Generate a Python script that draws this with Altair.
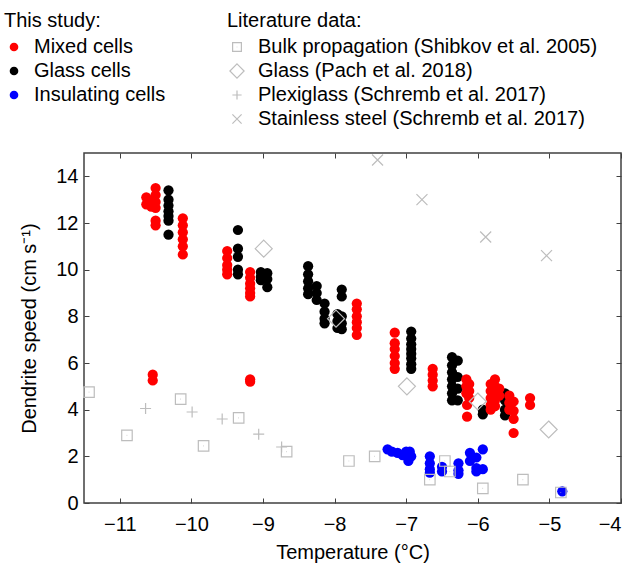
import altair as alt
import pandas as pd

FONT = "Liberation Sans"
GRAY = "#bdbdbd"
FRAME = "#404040"
FS = 20

# ---------------- This study ----------------
study_series = ["Mixed cells", "Glass cells", "Insulating cells"]
study_colors = ["#ff0000", "#000000", "#0000ff"]

glass_temp = ([-10.32] * 7 + [-9.35] * 5 + [-9.03] * 3 + [-8.94] * 3 + [-8.37] * 5 + [-8.25] * 3
              + [-8.14] * 4 + [-7.96] * 3 + [-7.90] * 5 + [-6.93] * 8 + [-6.36] * 7 + [-6.28] * 4
              + [-5.93] * 2 + [-5.62] * 4)
glass_speed = [13.4, 13.0, 12.75, 12.5, 12.3, 12.1, 11.5,
               11.7, 10.9, 10.55, 10.0, 9.8,
               9.9, 9.7, 9.55,
               9.85, 9.6, 9.25,
               10.15, 9.8, 9.5, 9.2, 8.95,
               9.3, 9.0, 8.7,
               8.55, 8.2, 7.9, 7.7,
               8.1, 7.8, 7.5,
               9.15, 8.85, 8.0, 7.7, 7.45,
               7.35, 7.05, 6.8, 6.6, 6.4, 6.2, 5.95, 5.75,
               6.25, 5.9, 5.6, 5.3, 5.0, 4.7, 4.4,
               6.1, 5.4, 4.9, 4.4,
               4.0, 3.8,
               4.7, 4.4, 4.0, 3.75]

mixed_temp = ([-10.63] * 2 + [-10.56] * 2 + [-10.50] * 6 + [-10.12] * 6 + [-10.54] * 2 + [-9.50] * 5
              + [-9.18] * 6 + [-9.18] * 2 + [-7.69] * 6 + [-7.16] * 6 + [-6.63] * 4 + [-6.16] * 3
              + [-6.12] * 3 + [-6.15] * 2 + [-5.82] * 5 + [-5.76] * 5 + [-5.70] * 2 + [-5.56] * 3
              + [-5.50] * 4 + [-5.27] * 2)
mixed_speed = [13.1, 12.8,
               12.95, 12.7,
               13.5, 13.2, 12.9, 12.65, 12.1, 11.9,
               12.2, 11.9, 11.6, 11.3, 11.0, 10.65,
               5.5, 5.25,
               10.8, 10.5, 10.2, 10.0, 9.8,
               9.9, 9.65, 9.4, 9.2, 9.0, 8.85,
               5.3, 5.2,
               8.55, 8.3, 8.0, 7.75, 7.5, 7.2,
               7.3, 6.85, 6.6, 6.3, 6.0, 5.75,
               5.75, 5.5, 5.25, 5.0,
               5.3, 5.0, 4.7,
               5.1, 4.8, 4.5,
               4.2, 3.7,
               5.1, 4.8, 4.5, 4.2, 4.0,
               5.3, 5.0, 4.7, 4.4, 4.15,
               4.9, 4.6,
               4.6, 4.3, 4.0,
               4.35, 3.95, 3.6, 3.0,
               4.5, 4.2]

insul_temp = ([-7.26, -7.20, -7.12, -7.05, -7.00, -6.97, -6.93, -6.95]
              + [-6.67] * 4 + [-6.50] * 2 + [-6.27] * 3 + [-6.11] * 2 + [-6.02] * 3 + [-5.93] * 2
              + [-4.82])
insul_speed = [2.3, 2.2, 2.15, 2.05, 2.2, 1.8, 2.0, 2.2,
               2.0, 1.7, 1.45, 1.3,
               1.55, 1.35,
               1.7, 1.4, 1.25,
               2.15, 1.8,
               1.95, 1.5, 1.35,
               2.3, 1.45,
               0.5]

# ---------------- Literature data ----------------
lit_series = ["Bulk propagation (Shibkov et al. 2005)", "Glass (Pach et al. 2018)",
              "Plexiglass (Schremb et al. 2017)", "Stainless steel (Schremb et al. 2017)"]
# symbol outlines (unit box scaled by the mark size)
lit_shapes = ["M-1.05,-1.05H1.05V1.05H-1.05ZM-0.05,0H0.05",
              "M0,-1.7L1.7,0L0,1.7L-1.7,0Z",
              "M0,-1.1V1.1M-1.1,0H1.1",
              "M-1.1,-1.1L1.1,1.1M-1.1,1.1L1.1,-1.1"]

bulk_temp = [-11.43, -10.90, -10.15, -9.83, -9.34, -8.67, -7.80, -7.44, -6.67, -6.46, -6.39, -5.93, -5.37, -4.84]
bulk_speed = [4.75, 2.9, 4.45, 2.45, 3.65, 2.2, 1.8, 2.0, 1.0, 1.8, 1.35, 0.63, 1.0, 0.45]
pach_temp = [-8.99, -7.98, -6.99, -6.00, -5.01]
pach_speed = [10.9, 7.9, 5.0, 4.35, 3.15]
plexi_temp = [-10.64, -9.99, -9.57, -9.06, -8.74]
plexi_speed = [4.05, 3.9, 3.6, 2.95, 2.4]
steel_temp = [-7.40, -6.78, -5.89, -5.04]
steel_speed = [14.7, 13.0, 11.4, 10.6]

x_ticks = [-11, -10, -9, -8, -7, -6, -5, -4]
y_ticks = [0, 2, 4, 6, 8, 10, 12, 14]


def rows(name, ts, vs):
    return [{"series": name, "T": t, "v": v} for t, v in zip(ts, vs)]


study_df = pd.DataFrame(rows("Glass cells", glass_temp, glass_speed)
                        + rows("Mixed cells", mixed_temp, mixed_speed)
                        + rows("Insulating cells", insul_temp, insul_speed))
lit_df = pd.DataFrame(rows(lit_series[0], bulk_temp, bulk_speed)
                      + rows(lit_series[1], pach_temp, pach_speed)
                      + rows(lit_series[2], plexi_temp, plexi_speed)
                      + rows(lit_series[3], steel_temp, steel_speed))

xscale = alt.Scale(domain=[-11.5, -4], nice=False, zero=False)
yscale = alt.Scale(domain=[0, 15], nice=False)

common_axis = dict(grid=False, domain=False, tickSize=5, offset=-5, tickColor=FRAME, tickWidth=1,
                   labelFont=FONT, labelFontSize=FS, labelColor="black",
                   titleFont=FONT, titleFontSize=FS, titleFontWeight="normal", titleColor="black")

legend_common = dict(orient="none", titleFont=FONT, titleFontSize=FS, titleFontWeight="normal",
                     titleColor="black", labelFont=FONT, labelFontSize=FS, labelColor="black",
                     labelLimit=0, padding=0, rowPadding=4, titlePadding=6)

study = alt.Chart(study_df).mark_circle(size=105, opacity=1).encode(
    x=alt.X("T:Q", scale=xscale,
            axis=alt.Axis(orient="bottom", values=x_ticks, labelPadding=11, title="Temperature (°C)",
                          titlePadding=8, **common_axis)),
    y=alt.Y("v:Q", scale=yscale,
            axis=alt.Axis(orient="left", values=y_ticks, labelPadding=6, title="Dendrite speed (cm s⁻¹)",
                          titlePadding=16, **common_axis)),
    color=alt.Color("series:N", scale=alt.Scale(domain=study_series, range=study_colors),
                    legend=alt.Legend(title="This study:", legendX=-80, legendY=-142,
                                      symbolSize=75, symbolType="circle", labelOffset=10,
                                      **legend_common)),
)

lit = alt.Chart(lit_df).mark_point(filled=False, color=GRAY, strokeWidth=1.2, opacity=1, size=100).encode(
    x=alt.X("T:Q", scale=xscale,
            axis=alt.Axis(orient="top", values=x_ticks, labels=False, title="", **common_axis)),
    y=alt.Y("v:Q", scale=yscale,
            axis=alt.Axis(orient="right", values=y_ticks, labels=False, title="", **common_axis)),
    shape=alt.Shape("series:N", scale=alt.Scale(domain=lit_series, range=lit_shapes),
                    legend=alt.Legend(title="Literature data:", legendX=143, legendY=-142,
                                      symbolSize=70, symbolStrokeColor=GRAY, symbolStrokeWidth=1.2,
                                      symbolFillColor="transparent", labelOffset=11,
                                      **legend_common)),
)

chart = alt.layer(study, lit).resolve_axis(x="independent", y="independent").resolve_legend(
    shape="independent", color="independent"
).properties(
    width=537, height=350,
    background="white",
    autosize=alt.AutoSizeParams(type="none"),
    padding={"left": 84, "top": 153, "right": 22, "bottom": 64},
).configure_view(stroke=FRAME, strokeWidth=1.5)

chart.save("out.html", embed_options={"renderer": "svg", "actions": False})
